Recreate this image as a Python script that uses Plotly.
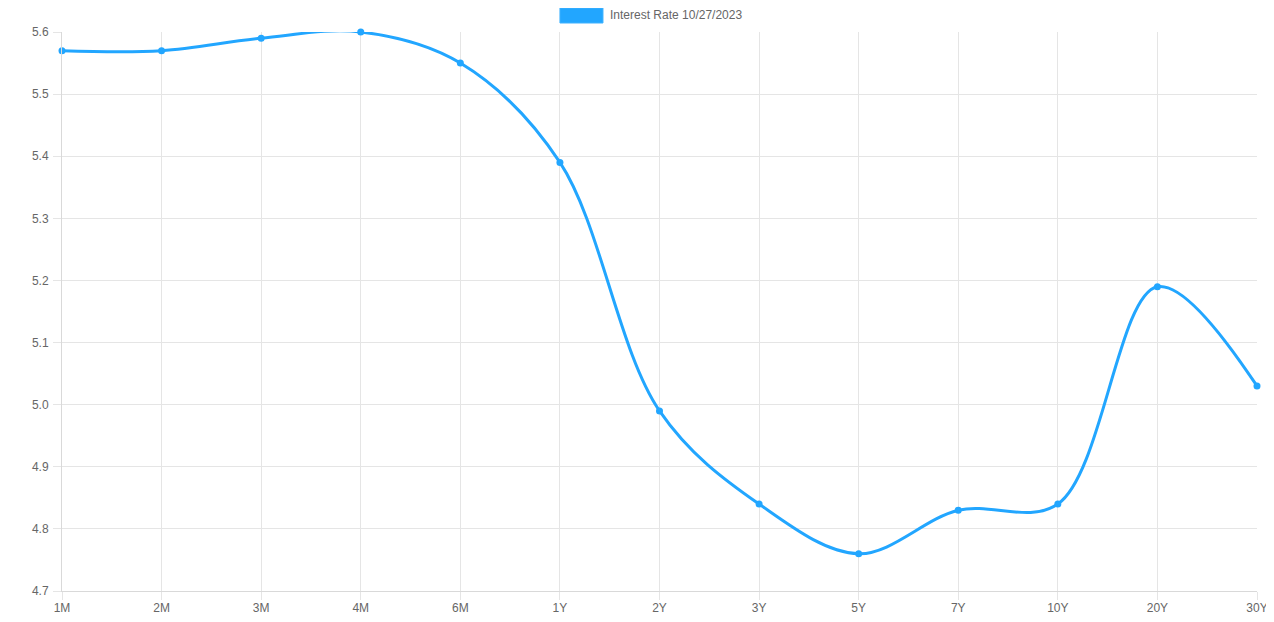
import plotly.graph_objects as go

# Treasury yield curve, 10/27/2023
maturities = ["1M", "2M", "3M", "4M", "6M", "1Y", "2Y", "3Y", "5Y", "7Y", "10Y", "20Y", "30Y"]
rates = [5.57, 5.57, 5.59, 5.60, 5.55, 5.39, 4.99, 4.84, 4.76, 4.83, 4.84, 5.19, 5.03]
series_name = "Interest Rate 10/27/2023"
y_ticks = [4.7, 4.8, 4.9, 5.0, 5.1, 5.2, 5.3, 5.4, 5.5, 5.6]

line_color = "#22a6ff"
grid_color = "#e5e5e5"
text_color = "#666666"

fig = go.Figure()
fig.add_trace(go.Scatter(
    x=maturities,
    y=rates,
    mode="lines+markers",
    name=series_name,
    line=dict(color=line_color, width=3, shape="spline", smoothing=1),
    marker=dict(color=line_color, size=7),
    cliponaxis=False,
    showlegend=False,
))

# chart.js-like legend: wide colour box + label
fig.add_shape(type="rect", xref="paper", yref="paper",
              x0=0.4167, x1=0.4527, y0=1.0161, y1=1.0429,
              fillcolor=line_color, line=dict(color="#3fb2ff", width=1))
fig.add_annotation(text=series_name, xref="paper", yref="paper",
                   x=0.4569, y=1.0304, xanchor="left", yanchor="middle",
                   showarrow=False, font=dict(size=12, color=text_color))

# faint line below the chart
fig.add_shape(type="line", xref="paper", yref="paper",
              x0=0.3715, x1=0.6226, y0=-0.0519, y1=-0.0519,
              line=dict(color="#e0e0e0", width=1))

# page body has an 8px margin, so the figure starts at (8, 8)
fig.update_layout(
    width=1274,
    height=606,
    margin=dict(l=54, r=25, t=24, b=23),
    paper_bgcolor="white",
    plot_bgcolor="white",
    font=dict(family="Liberation Sans, Arial, Helvetica, sans-serif", size=12, color=text_color),
    xaxis=dict(
        type="category",
        range=[0, len(maturities) - 1],
        automargin=False,
        showgrid=True, gridcolor=grid_color, gridwidth=1,
        showline=True, linecolor="#d9d9d9", linewidth=1,
        ticks="outside", ticklen=8, tickcolor=grid_color,
        ticklabelstandoff=-2,
        zeroline=False,
    ),
    yaxis=dict(
        range=[4.7, 5.6],
        tickvals=y_ticks,
        tickformat=".1f",
        automargin=False,
        showgrid=True, gridcolor=grid_color, gridwidth=1,
        showline=True, linecolor="#d9d9d9", linewidth=1,
        ticks="outside", ticklen=8, tickcolor=grid_color,
        ticklabelstandoff=2,
        zeroline=False,
    ),
)

fig.write_html("out.html")
